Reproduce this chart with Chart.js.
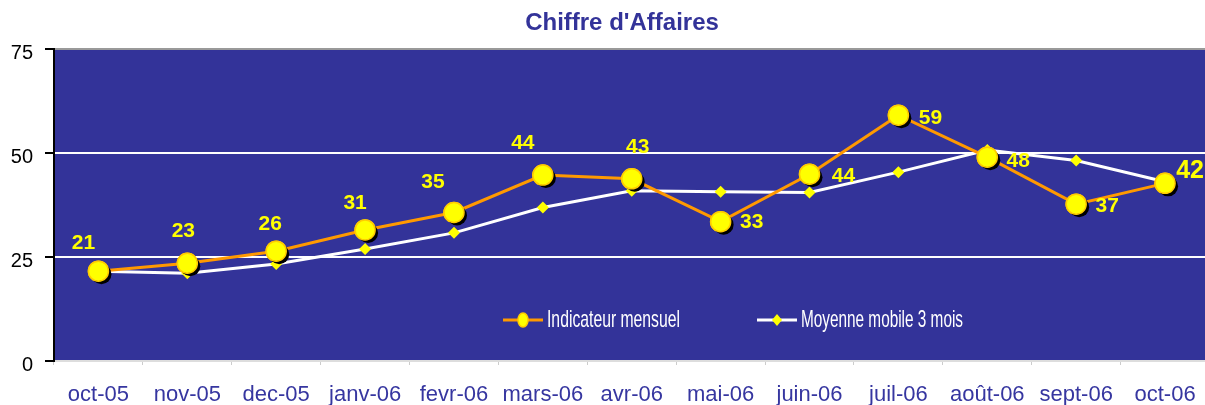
<!DOCTYPE html>
<html>
<head>
<meta charset="utf-8">
<script src="https://cdn.jsdelivr.net/npm/chart.js@4/dist/chart.umd.min.js"></script>
<style>
    html, body { margin: 0; padding: 0; background: #fff; overflow: hidden; }
    #wrap { width: 1221px; height: 405px; }
</style>
</head>
<body>
<div id="wrap"><canvas id="chart" width="1221" height="405"></canvas></div>
<script>
// donnees
var mois = ['oct-05', 'nov-05', 'dec-05', 'janv-06', 'fevr-06', 'mars-06', 'avr-06',
    'mai-06', 'juin-06', 'juil-06', 'août-06', 'sept-06', 'oct-06']
var mensuel = [21.6, 23.5, 26.4, 31.5, 35.7, 44.7, 43.8, 33.5, 44.9, 59.1, 49.0, 37.7, 42.7]
var etiquettes = [21, 23, 26, 31, 35, 44, 43, 33, 44, 59, 48, 37, 42]
var moyenne = [21.6, 21.1, 23.3, 26.9, 30.8, 36.9, 40.9, 40.7, 40.5, 45.4, 50.7, 48.2, 43.1]
var graduations = [0, 25, 50, 75]

// placement des etiquettes (decalage par rapport au point)
var decalages = [[-15, -28], [-4, -32], [-6, -27], [-10, -27], [-21, -30], [-20, -32], [6, -32],
    [31, 1], [34, 2], [32, 3], [31, 4], [31, 2], [25, -12]]

var police = '"Liberation Sans", Arial, sans-serif'
var bleu = '#333399'

/**
 * Fond bleu de la zone de trace, titre et legende
 */
var decor = {
    id: 'decor',
    beforeDraw: function(chart) {
        var ctx = chart.ctx
        var a = chart.chartArea
        ctx.save()
        ctx.fillStyle = bleu
        ctx.fillRect(a.left, a.top, a.right - a.left, a.bottom - a.top)
        ctx.fillStyle = bleu
        ctx.font = 'bold 24px ' + police
        ctx.textAlign = 'center'
        ctx.textBaseline = 'middle'
        ctx.fillText("Chiffre d'Affaires", 622, 23)
        ctx.restore()
    },
    afterDatasetsDraw: function(chart) {
        var ctx = chart.ctx
        var meta = chart.getDatasetMeta(0)
        // ombre des marqueurs puis marqueurs redessines par dessus
        meta.data.forEach(function(pt) {
            ctx.save()
            ctx.fillStyle = '#000'
            ctx.beginPath()
            ctx.arc(pt.x + 3, pt.y + 3, 10, 0, Math.PI * 2)
            ctx.fill()
            ctx.restore()
            pt.draw(ctx, chart.chartArea)
        })

        // etiquettes de valeurs
        ctx.save()
        ctx.fillStyle = '#FFFF00'
        ctx.textAlign = 'center'
        ctx.textBaseline = 'middle'
        meta.data.forEach(function(pt, i) {
            var taille = i == etiquettes.length - 1 ? 25 : 21
            ctx.font = 'bold ' + taille + 'px ' + police
            ctx.fillText(String(etiquettes[i]), pt.x + decalages[i][0], pt.y + decalages[i][1])
        })
        ctx.restore()

        // legende
        var y = 320
        ctx.save()
        ctx.lineWidth = 3
        ctx.strokeStyle = '#FF9900'
        ctx.beginPath(); ctx.moveTo(503, y); ctx.lineTo(543, y); ctx.stroke()
        ctx.fillStyle = '#FFFF00'
        ctx.strokeStyle = '#FFCC00'
        ctx.lineWidth = 1.5
        ctx.beginPath(); ctx.ellipse(523, y, 5, 7, 0, 0, Math.PI * 2); ctx.fill(); ctx.stroke()
        ctx.lineWidth = 3
        ctx.strokeStyle = '#FFFFFF'
        ctx.beginPath(); ctx.moveTo(757, y); ctx.lineTo(797, y); ctx.stroke()
        ctx.fillStyle = '#FFFF00'
        ctx.beginPath()
        ctx.moveTo(777, y - 6); ctx.lineTo(782, y); ctx.lineTo(777, y + 6); ctx.lineTo(772, y)
        ctx.closePath(); ctx.fill()
        ctx.fillStyle = '#FFFFFF'
        ctx.font = '24px ' + police
        ctx.textBaseline = 'middle'
        legendeTexte(ctx, 'Indicateur mensuel', 547, y, 133)
        legendeTexte(ctx, 'Moyenne mobile 3 mois', 801, y, 162)
        ctx.restore()
    }
}

/**
 * Texte etroit (compresse horizontalement) comme dans la legende d'origine
 */
function legendeTexte(ctx, texte, x, y, largeur) {
    var w = ctx.measureText(texte).width
    ctx.save()
    ctx.translate(x, y)
    ctx.scale(largeur / w, 1)
    ctx.fillText(texte, 0, 0)
    ctx.restore()
}

var ctx = document.getElementById('chart').getContext('2d')
var chiffreChart = new Chart(ctx, {
    type: 'line',
    plugins: [decor],
    data: {
        labels: mois,
        datasets: [{
            label: 'Indicateur mensuel',
            data: mensuel,
            borderColor: '#FF9900',
            borderWidth: 3,
            backgroundColor: '#FFFF00',
            pointBackgroundColor: '#FFFF00',
            pointBorderColor: '#FFCC00',
            pointBorderWidth: 1.5,
            pointRadius: 10,
            pointHoverRadius: 10,
            tension: 0
        }, {
            label: 'Moyenne mobile 3 mois',
            data: moyenne,
            borderColor: '#FFFFFF',
            borderWidth: 3,
            pointStyle: 'rectRot',
            pointBackgroundColor: '#FFFF00',
            pointBorderColor: '#FFFF00',
            pointBorderWidth: 0,
            pointRadius: 6,
            tension: 0
        }]
    },
    options: {
        responsive: false,
        animation: false,
        events: [],
        layout: { padding: { top: 49, right: 1, bottom: 0, left: 0 } },
        plugins: {
            legend: { display: false },
            title: { display: false },
            tooltip: { enabled: false }
        },
        scales: {
            x: {
                offset: true,
                grid: {
                    offset: true,
                    drawOnChartArea: false,
                    tickLength: 4,
                    color: '#CCCCCC'
                },
                border: { color: '#DDDDDD', width: 2 },
                ticks: {
                    color: '#3636A0',
                    padding: 17,
                    maxRotation: 0,
                    autoSkip: false,
                    font: { family: police, size: 22 }
                },
                afterFit: function(scale) { scale.height = 44 }
            },
            y: {
                min: graduations[0],
                max: graduations[graduations.length - 1],
                afterBuildTicks: function(scale) {
                    scale.ticks = graduations.map(v => ({ value: v }))
                },
                grid: {
                    tickLength: 9,
                    tickColor: '#000',
                    lineWidth: 2,
                    color: function(c) {
                        if (c.tick.value == 75) return '#999999'
                        if (c.tick.value == 0) return '#DDDDDD'
                        return '#FFFFFF'
                    }
                },
                border: { color: '#000', width: 2 },
                ticks: {
                    color: '#000',
                    padding: 12,
                    labelOffset: 4,
                    font: { family: police, size: 20 }
                },
                afterFit: function(scale) { scale.width = 54 }
            }
        }
    }
})
</script>
</body>
</html>
